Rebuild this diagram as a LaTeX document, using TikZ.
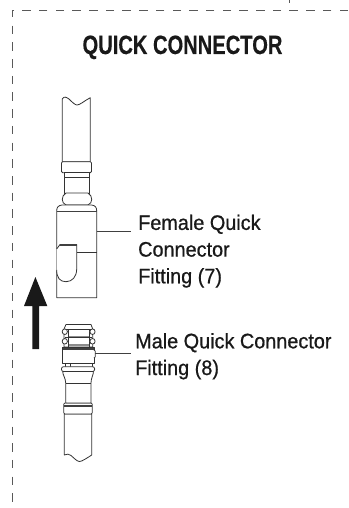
\documentclass[tikz,border=0pt]{standalone}
\usepackage{fontspec}
\setmainfont{Liberation Sans}
\newfontfamily\lblfont[FakeStretch=0.945,FakeBold=0.7]{Liberation Sans}
\newfontfamily\ttlfont[FakeStretch=0.76,FakeBold=0.2]{Liberation Sans Bold}
\tikzset{
 part/.style={draw=black!80,line width=0.8pt,fill=white,line join=round},
 heavy/.style={draw=black!75,line width=1.4pt},
 shade/.style={draw=black!45,line width=1.6pt},
 leader/.style={draw=black!75,line width=0.9pt},
 frame/.style={draw=black!65,line width=1pt,dash pattern=on 8.5pt off 8.2pt},
 lbl/.style={font=\lblfont\fontsize{21}{26.7}\selectfont,anchor=base west,align=left,inner sep=0pt,text=black!90},
}
\begin{document}
\begin{tikzpicture}[x=1pt,y=-1pt]
\useasboundingbox (0,0) rectangle (348,508);
\fill[white] (0,0) rectangle (348,508);
% frame
\draw[frame] (348,11) -- (12,11) -- (12,508);
\draw[draw=black!65,line width=1pt] (289,0) -- (289,3);
% title
\node[font=\ttlfont\fontsize{26.5}{30}\selectfont,text=black!90,inner sep=0pt,anchor=base] (title) at (182.5,54) {QUICK CONNECTOR};
% female fitting
\draw[part] (62.3,161.7) -- (62.3,99) .. controls (64,96) and (66,97) .. (69,99) .. controls (72,102) and (75,105) .. (77,105) .. controls (80,105) and (84,101) .. (90.3,97.7) -- (90.3,161.7) -- cycle;
\draw[part,rounded corners=1.2pt] (61.5,161.7) rectangle (91.5,172.7);
\draw[part] (64.5,172.7) rectangle (89.5,193);
\draw[part] (64.5,177.7) -- (89.5,177.7);
\draw[part] (66,193) -- (88,193) .. controls (93,196) and (93,203) .. (88,205) -- (66,205) .. controls (61,203) and (61,196) .. (66,193) -- cycle;
\draw[part] (56.7,297.7) -- (56.7,211) .. controls (56.7,207.5) and (58,205.5) .. (62,205) -- (91.5,205) .. controls (95.5,205.5) and (96.7,207.5) .. (96.7,211) -- (96.7,297.7) -- cycle;
\draw[heavy] (56.7,211.7) -- (96.7,211.7);
\draw[part] (56.7,249) -- (60,244.5) -- (76.7,244.5) -- (76.7,269) .. controls (76.7,277) and (72,281.7) .. (66,281.7) .. controls (60,281.7) and (56.7,278) .. (56.7,270);
\draw[heavy] (60,245) -- (76.7,245);
\draw[part] (76.7,252.3) -- (96.7,252.3);
\coordinate (fport) at (96.7,231.7);
% arrow
\fill[black!90] (32.3,349) -- (39,349) -- (39,306) -- (47.3,306) -- (35.4,277) -- (24,306) -- (32.3,306) -- cycle;
% male fitting
\draw[part] (64.3,414) -- (64.3,455) .. controls (67,453.5) and (69,454) .. (71,455.5) .. controls (74,458) and (77,461.5) .. (79.5,461.5) .. controls (82,461.5) and (87,458) .. (91.7,455) -- (91.7,414) -- cycle;
\draw[part,rounded corners=1.2pt] (63.7,403) rectangle (92.3,414);
\draw[heavy] (64,406) -- (92,406);
\draw[part] (65.7,403) -- (65.7,383) .. controls (65.7,378) and (62.5,375) .. (62.7,371) -- (93.5,371) .. controls (93.5,375) and (91,378) .. (91,383) -- (91,403) -- cycle;
\draw[part] (65.7,383) -- (91,383);
\draw[part] (65,363.5) rectangle (92,367);
\draw[part] (70,363.5) -- (70,367);
\draw[part,rounded corners=2pt] (61.5,366.7) rectangle (94.6,371.5);
% head of the male fitting
\draw[part] (66,324.5) -- (91,324.5) -- (92.7,329) -- (92.7,347) -- (64,347) -- (64,329) -- cycle;
\draw[part] (65,329) -- (92,329);
\draw[shade] (69,336.5) -- (90,336.5);
\draw[part] (65,337.5) -- (92,337.5);
\draw[shade] (69,345) -- (90,345);
\draw[part] (68.5,329) -- (68.5,347);
\draw[part] (89.5,329) -- (89.5,347);
\draw[part] (64.8,331.7) ellipse (2.6 and 2.8);
\draw[part] (92.5,331.7) ellipse (2.6 and 2.8);
\draw[part] (64.8,341.3) ellipse (2.6 and 2.8);
\draw[part] (92.5,341.3) ellipse (2.6 and 2.8);
\draw[part] (62.7,347.5) rectangle (94,363.5);
\draw[heavy] (62.7,349) -- (94,349);
\draw[part] (94,350) -- (95.2,351) -- (95.2,357) -- (94,358);
\coordinate (mport) at (95.2,353.7);
% labels
\node[lbl] (flabel) at (138,283.3) {Female Quick\\Connector\\Fitting (7)};
\node[lbl] (mlabel) at (135,375) {Male Quick Connector\\Fitting (8)};
\draw[leader] (fport) -- (131,231.7) coordinate (fend);
\draw[leader] (mport) -- (131,353.7) coordinate (mend);
\end{tikzpicture}
\end{document}
